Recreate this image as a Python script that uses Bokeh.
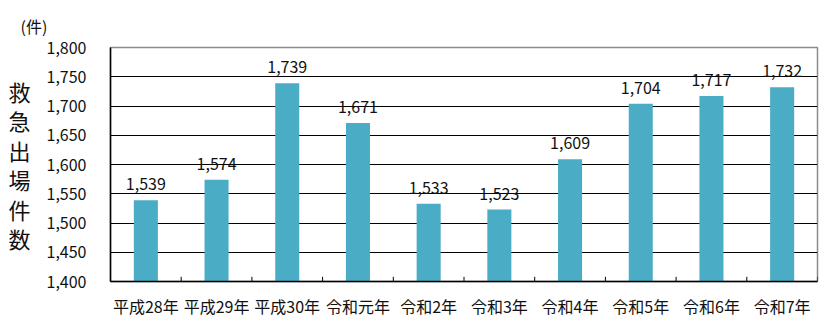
from bokeh.plotting import figure
from bokeh.models import ColumnDataSource, FactorRange, Range1d, LabelSet, FixedTicker, NumeralTickFormatter
from bokeh.core.properties import value
from bokeh.embed import file_html
from bokeh.resources import INLINE

categories = ["平成28年", "平成29年", "平成30年", "令和元年", "令和2年", "令和3年", "令和4年", "令和5年", "令和6年", "令和7年"]
values = [1539, 1574, 1739, 1671, 1533, 1523, 1609, 1704, 1717, 1732]
y_ticks = [1400, 1450, 1500, 1550, 1600, 1650, 1700, 1750, 1800]
y_title = "救急出場件数"
unit_label = "(件)"

FONT = "Noto Sans CJK JP"
BAR = "#4BACC6"
LEFT, TOP, BOTTOM = 110, 47, 34
H = 320

src = ColumnDataSource(dict(cat=categories, val=values, txt=[f"{v:,}" for v in values]))

p = figure(width=826, height=H, x_range=FactorRange(*categories, range_padding=0),
           y_range=Range1d(y_ticks[0], y_ticks[-1]),
           output_backend="svg", toolbar_location=None, title=unit_label,
           min_border_left=LEFT, min_border_right=9, min_border_top=TOP, min_border_bottom=BOTTOM)
p.background_fill_color = "white"
p.border_fill_color = "white"
p.outline_line_color = "#8c8c8c"
p.outline_line_width = 1.5

p.title.align = "left"
p.title.offset = 20 - LEFT
p.title.standoff = 19
p.title.text_font = FONT
p.title.text_font_size = "16px"
p.title.text_font_style = "normal"
p.title.text_color = "#111111"

p.vbar(x="cat", top="val", bottom=y_ticks[0], width=0.34, source=src, fill_color=BAR, line_color=None)

p.add_layout(LabelSet(x="cat", y="val", text="txt", source=src, y_offset=10,
                      text_align="center", text_baseline="bottom",
                      text_font=value(FONT), text_font_size=value("16px"), text_color=value("#111111")))

# y axis
p.yaxis.ticker = FixedTicker(ticks=y_ticks)
p.yaxis.formatter = NumeralTickFormatter(format="0,0")
p.yaxis.major_tick_out = 0
p.yaxis.major_tick_in = 0
p.yaxis.minor_tick_out = 0
p.yaxis.minor_tick_in = 0
p.yaxis.major_label_standoff = 24
p.yaxis.major_label_text_font = FONT
p.yaxis.major_label_text_font_size = "16px"
p.yaxis.major_label_text_color = "#111111"
p.yaxis.axis_line_color = "black"
p.yaxis.axis_line_width = 1.5
p.yaxis.axis_label = "\n".join(y_title)
p.yaxis.axis_label_orientation = "horizontal"
p.yaxis.axis_label_text_font = FONT
p.yaxis.axis_label_text_font_size = "22px"
p.yaxis.axis_label_text_font_style = "normal"
p.yaxis.axis_label_text_line_height = 0.92
p.yaxis.axis_label_text_color = "#111111"
p.yaxis.axis_label_standoff = 13

# x axis
p.xaxis.major_tick_out = 0
p.xaxis.major_tick_in = 0
p.xaxis.major_label_standoff = 12
p.xaxis.major_label_text_font = FONT
p.xaxis.major_label_text_font_size = "16px"
p.xaxis.major_label_text_color = "#111111"
p.xaxis.axis_line_color = "black"
p.xaxis.axis_line_width = 1.5

# category boundary ticks (inward)
n = len(categories)
bx = list(range(1, n + 1))
p.segment(x0=bx, x1=bx, y0=[y_ticks[0]] * n, y1=[y_ticks[0] + 8] * n, line_color="black", line_width=1)

p.xgrid.grid_line_color = None
p.ygrid.ticker = FixedTicker(ticks=y_ticks[1:-1])
p.ygrid.grid_line_color = "black"
p.ygrid.grid_line_width = 1

open("out.html", "w").write(file_html(p, INLINE))
